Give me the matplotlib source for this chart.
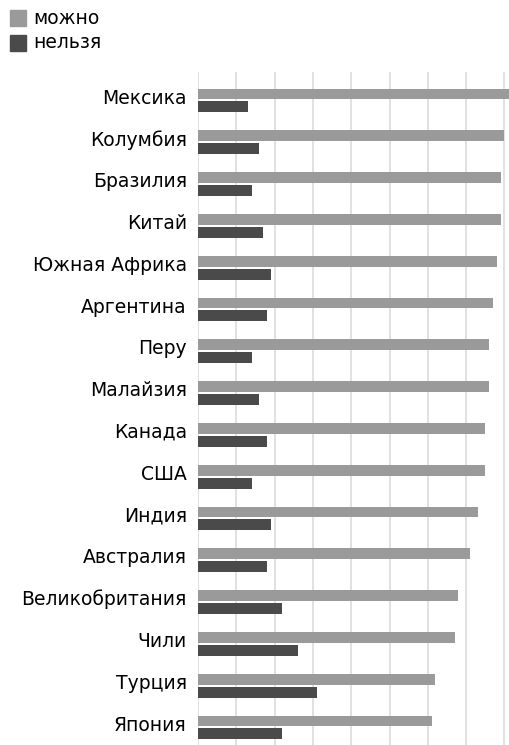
import matplotlib
matplotlib.use("Agg")
import matplotlib.pyplot as plt
import numpy as np
from matplotlib.patches import Rectangle

plt.rcParams['font.family'] = ['DejaVu Sans']

# Data
countries = ["Мексика", "Колумбия", "Бразилия", "Китай", "Южная Африка",
             "Аргентина", "Перу", "Малайзия", "Канада", "США", "Индия",
             "Австралия", "Великобритания", "Чили", "Турция", "Япония"]
mozhno = [82, 80, 79, 79, 78, 77, 76, 76, 75, 75, 73, 71, 68, 67, 62, 61]
nelzya = [13, 16, 14, 17, 19, 18, 14, 16, 18, 14, 19, 18, 22, 26, 31, 22]
legend_labels = ["можно", "нельзя"]

light = "#9a9a9a"
dark = "#4a4a4a"
W, H = 509, 745

fig = plt.figure(figsize=(W / 100, H / 100), dpi=100)
ax = fig.add_axes([198 / W, 0, 1 - 198 / W, 1 - 72 / H])

y = np.arange(len(countries))
h = 0.26
off = 0.155
ax.barh(y - off, mozhno, height=h, color=light, zorder=3)
ax.barh(y + off, nelzya, height=h, color=dark, zorder=3)

ax.set_xlim(0, 81.2)
ax.set_ylim(15.42, -0.68)
ax.set_xticks(np.arange(0, 81, 10))
ax.set_xticklabels([])
ax.tick_params(axis='x', length=0)
ax.tick_params(axis='y', length=0, pad=8, labelsize=13.5)
ax.set_yticks(y - off + 0.05)
ax.set_yticklabels(countries)
ax.grid(axis='x', color='#dcdcdc', linewidth=1.2, zorder=0)
for s in ax.spines.values():
    s.set_visible(False)

# legend drawn by hand in the top-left corner
for i, (lab, col) in enumerate(zip(legend_labels, [light, dark])):
    top = 10 + 25 * i
    fig.patches.append(Rectangle((10 / W, 1 - (top + 16) / H), 16 / W, 16 / H,
                                 transform=fig.transFigure, color=col))
    fig.text(33 / W, 1 - (top + 8) / H, lab, fontsize=13.5, va='center', ha='left')

fig.savefig("out.png", dpi=100)
